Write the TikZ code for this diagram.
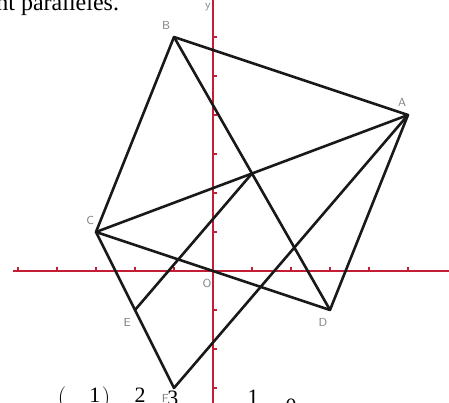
\documentclass[tikz,border=0pt]{standalone}
\usepackage{fontspec}
\setmainfont{Liberation Serif}
\usepackage{xcolor}
\usepackage{tikz}
\usetikzlibrary{calc}

\definecolor{axisred}{RGB}{196,30,54}

\begin{document}
\begin{tikzpicture}[
  axis/.style={draw=axisred, line width=1.3pt},
  tck/.style={draw=axisred, line width=0.8pt},
  seg/.style={draw=black!90, line width=1.9pt, line join=round, line cap=round},
  lbl/.style={font=\fontsize{8.5}{10}\sffamily, text=black!50, inner sep=0pt},
  txt/.style={font=\fontsize{16}{19}\selectfont, inner sep=0pt},
]

\useasboundingbox (-5.4615,-3.3846) rectangle (6.0513,6.9487);
\begin{scope}
\clip (-5.4615,-3.3846) rectangle (6.0513,6.9487);

% --- axes ---
\draw[axis] (-5.13,0) -- (6.1,0);
\draw[axis] (0,-3.4) -- (0,7.0);
\foreach \x in {-5,...,-1,1,2,...,5}
  \draw[tck] (\x,0) -- ++(0,0.1);
\foreach \y in {-3,...,-1,1,2,...,6}
  \draw[tck] (0,\y) -- ++(0.1,0);

% --- points ---
\coordinate (A) at (5,4);
\coordinate (B) at (-1,6);
\coordinate (C) at (-3,1);
\coordinate (D) at (3,-1);
\coordinate (E) at (-2,-1);
\coordinate (F) at (-1,-3);
\coordinate (I) at (1,2.5);

% --- segments ---
\draw[seg] (A) -- (B) -- (C) -- (D) -- cycle;
\draw[seg] (A) -- (C);
\draw[seg] (B) -- (D);
\draw[seg] (C) -- (F) -- (A);
\draw[seg] (E) -- (I);

% --- labels ---
\node[lbl] (lA) at ($(A)+(-0.15,0.31)$) {A};
\node[lbl] (lB) at ($(B)+(-0.2,0.3)$) {B};
\node[lbl] (lC) at ($(C)+(-0.15,0.3)$) {C};
\node[lbl] (lD) at ($(D)+(-0.18,-0.31)$) {D};
\node[lbl] (lE) at ($(E)+(-0.2,-0.31)$) {E};
\node[lbl] (lF) at ($(F)+(-0.22,-0.26)$) {F};
\node[lbl] (lO) at (-0.15,-0.31) {O};
\node[lbl] (ly) at (-0.13,6.77) {y};

% --- text of the page ---
\node[txt, font=\fontsize{17.5}{20}\selectfont, anchor=base west] (top) at (-5.56,6.69) {nt parallèles.};
\node[txt, anchor=north] (p1) at (-3.87,-2.95) {$\Big($};
\node[txt, anchor=north] (n1) at (-3.03,-3.0) {1};
\node[txt, anchor=north] (p2) at (-2.74,-2.95) {$\Big)$};
\node[txt, anchor=north] (n2) at (-1.87,-3.0) {2};
\node[txt, anchor=north] (n3) at (-1.03,-3.08) {3};
\node[txt, anchor=north] (n4) at (1.03,-3.05) {1};
\node[txt, anchor=north] (n5) at (2.0,-3.28) {0};
\end{scope}

\end{tikzpicture}
\end{document}
